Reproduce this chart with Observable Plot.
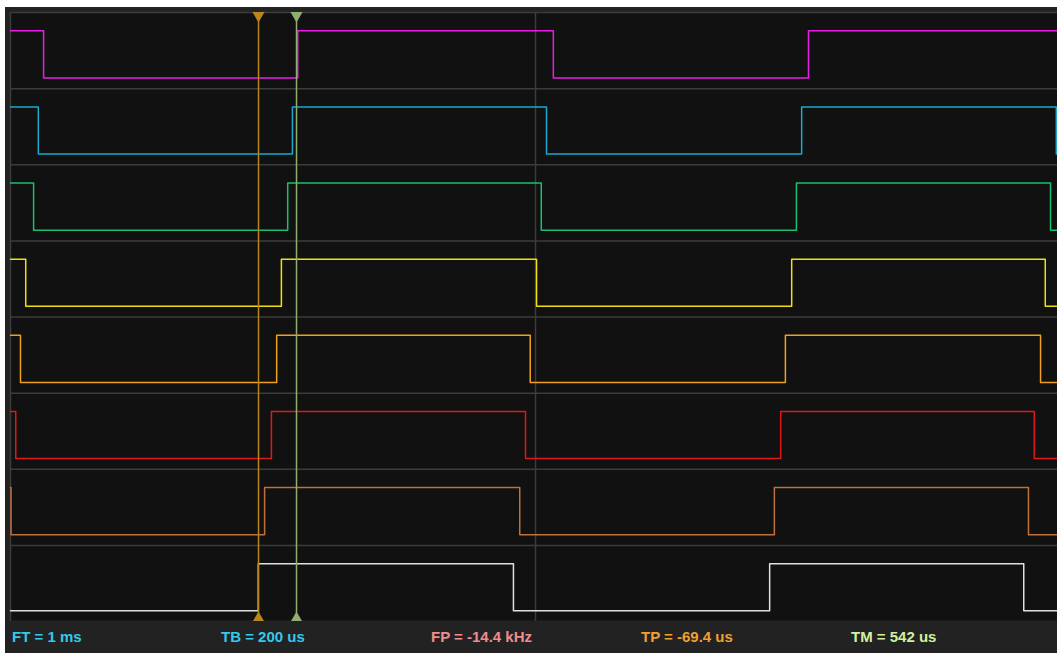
<!DOCTYPE html>
<html>
<head>
<meta charset="utf-8">
<script src="https://cdn.jsdelivr.net/npm/d3@7"></script>
<script src="https://cdn.jsdelivr.net/npm/@observablehq/plot@0.6"></script>
<style>
  html, body { margin: 0; padding: 0; background: #ffffff; }
  #panel { position: absolute; left: 5px; top: 7px; width: 1052px; background: #222222; }
  #panel svg { display: block; }
  #bar { position: relative; height: 32px; background: #222222; font-family: "Liberation Sans Narrow", "Liberation Sans", Arial, sans-serif; font-weight: bold; font-size: 15px; }
  #bar span { position: absolute; top: 7px; white-space: nowrap; }
</style>
</head>
<body>
<div id="panel"></div>
<script>
// Channel names and colours (top to bottom)
const channels = ["CH1", "CH2", "CH3", "CH4", "CH5", "CH6", "CH7", "CH8"];
const colors = ["#e81ee8", "#1aa8d0", "#18c070", "#f0e010", "#f0a020", "#e01818", "#c0703a", "#e0e0e0"];
// Initial logic level at t = 0 (1 = high)
const initialLevel = [1, 1, 1, 1, 1, 1, 1, 0];
// Edge times (us) for each channel
const edges = [
  [63, 547, 1034, 1520],
  [53, 537, 1021, 1507, 1992],
  [44, 528, 1011, 1497, 1981],
  [29, 516, 1002, 1488, 1971],
  [19, 507, 990, 1476, 1962],
  [10, 497, 981, 1467, 1950],
  [1, 484, 970, 1455, 1939],
  [472, 958, 1446, 1930]
];
// Cursor positions (us)
const cursorTimes = [472.4, 544.8];
const cursorColors = ["#b8861a", "#8fae70"];
// Read-outs
const readouts = [
  {text: "FT = 1 ms", color: "#33c8ec"},
  {text: "TB = 200 us", color: "#33c8ec"},
  {text: "FP = -14.4 kHz", color: "#f08c8c"},
  {text: "TP = -69.4 us", color: "#f0a030"},
  {text: "TM = 542 us", color: "#d4eea0"}
];
const readoutX = [7, 216, 426, 636, 846];

const tEnd = 1994.3;
const highOff = 0.24, lowOff = 0.86;

const rows = [];
channels.forEach((ch, i) => {
  let lvl = initialLevel[i];
  const yOf = l => i + (l ? highOff : lowOff);
  rows.push({ch, t: 0, y: yOf(lvl)});
  for (const e of edges[i]) {
    lvl = 1 - lvl;
    rows.push({ch, t: e, y: yOf(lvl)});
  }
  rows.push({ch, t: tEnd, y: yOf(lvl)});
});

const cursors = cursorTimes.map((t, i) => ({t, c: cursorColors[i]}));

const plot = Plot.plot({
  width: 1052,
  height: 614,
  marginLeft: 5,
  marginTop: 5,
  marginRight: 0,
  marginBottom: 0,
  style: {background: "#222222", overflow: "visible"},
  x: {domain: [0, tEnd], axis: null},
  y: {domain: [0, 8], range: [5, 614], axis: null},
  color: {domain: channels, range: colors},
  marks: [
    Plot.frame({fill: "#111111", stroke: null}),
    Plot.ruleY(d3.range(0, 9), {stroke: "#3c3c3c", strokeWidth: 1.5}),
    Plot.ruleX([0, 1000], {stroke: "#3c3c3c", strokeWidth: 1.5}),
    Plot.line(rows, {x: "t", y: "y", z: "ch", stroke: "ch", curve: "step-after", strokeWidth: 1.5}),
    Plot.ruleX(cursors, {x: "t", stroke: "c", strokeWidth: 1.5}),
    Plot.dot(cursors, {x: "t", y: () => 0, symbol: "triangle", rotate: 180, r: 4.5, fill: "c", stroke: null, dy: 3}),
    Plot.dot(cursors, {x: "t", y: () => 8, symbol: "triangle", r: 4.5, fill: "c", stroke: null, dy: -3})
  ]
});
document.getElementById("panel").appendChild(plot);

const bar = document.createElement("div");
bar.id = "bar";
readouts.forEach((r, i) => {
  const s = document.createElement("span");
  s.textContent = r.text;
  s.style.color = r.color;
  s.style.left = readoutX[i] + "px";
  bar.appendChild(s);
});
document.getElementById("panel").appendChild(bar);
</script>
</body>
</html>
